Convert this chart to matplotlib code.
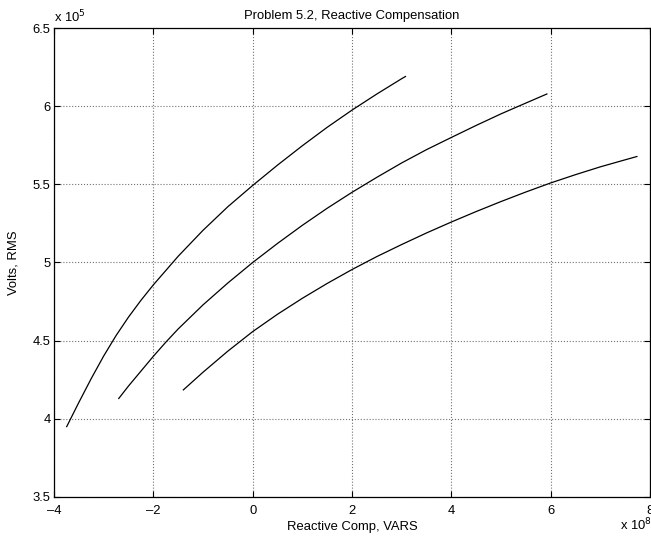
import matplotlib
matplotlib.use("Agg")
import matplotlib.pyplot as plt
from matplotlib.ticker import FuncFormatter

plt.rcParams['font.family'] = ['Liberation Sans', 'DejaVu Sans']

# curves: x in units of 1e8 VARS, y in units of 1e5 V
q1 = [-3.745, -3.5, -3.25, -3.0, -2.75, -2.5, -2.25, -2.0, -1.5, -1.0, -0.5,
      0.0, 0.5, 1.0, 1.5, 2.0, 2.5, 3.0, 3.076]
v1 = [3.95, 4.105, 4.258, 4.402, 4.533, 4.651, 4.758, 4.857, 5.04, 5.206, 5.357,
      5.493, 5.623, 5.747, 5.865, 5.975, 6.078, 6.176, 6.19]

q2 = [-2.697, -2.5, -2.0, -1.75, -1.5, -1.0, -0.5, 0.0, 0.5, 1.0, 1.5, 2.0,
      2.5, 3.0, 3.5, 4.0, 4.5, 5.0, 5.5, 5.923]
v2 = [4.13, 4.21, 4.40, 4.49, 4.575, 4.729, 4.869, 5.0, 5.122, 5.238, 5.347,
      5.449, 5.545, 5.637, 5.722, 5.8, 5.877, 5.951, 6.02, 6.078]

q3 = [-1.396, -1.0, -0.5, 0.0, 0.5, 1.0, 1.5, 2.0, 2.5, 3.0, 3.5, 4.0, 4.5,
      5.0, 5.5, 6.0, 6.5, 7.0, 7.5, 7.736]
v3 = [4.185, 4.298, 4.433, 4.558, 4.669, 4.771, 4.866, 4.955, 5.038, 5.115,
      5.189, 5.259, 5.326, 5.39, 5.451, 5.509, 5.562, 5.612, 5.657, 5.678]

xticks = [-4, -2, 0, 2, 4, 6, 8]
yticks = [3.5, 4, 4.5, 5, 5.5, 6, 6.5]

fig = plt.figure(figsize=(6.51, 5.39), dpi=100)
ax = fig.add_axes([0.083, 0.078, 0.9155, 0.870])

for q, v in [(q1, v1), (q2, v2), (q3, v3)]:
    ax.plot(q, v, color="black", lw=0.9)

ax.set_xlim(-4, 8)
ax.set_ylim(3.5, 6.5)
ax.set_xticks(xticks)
ax.set_yticks(yticks)
fmt = FuncFormatter(lambda val, pos: ("%g" % val).replace("-", "\u2013"))
ax.xaxis.set_major_formatter(fmt)
ax.yaxis.set_major_formatter(fmt)

ax.grid(True, linestyle=":", color="0.45", linewidth=0.8)
ax.tick_params(direction="in", length=4, width=0.8, top=True, right=True,
               labelsize=9.4)
ax.tick_params(axis="y", pad=2.5)
ax.tick_params(axis="x", pad=6)
for s in ax.spines.values():
    s.set_linewidth(0.9)

ax.set_title("Problem 5.2, Reactive Compensation", fontsize=9.4, pad=6.5)
ax.set_xlabel("Reactive Comp, VARS", fontsize=9.4)
ax.set_ylabel("Volts, RMS", fontsize=9.4)
ax.xaxis.set_label_coords(0.5, -0.052)
ax.yaxis.set_label_coords(-0.058, 0.5)

ax.text(0.0, 1.013, "x 10$^5$", transform=ax.transAxes, fontsize=9.4,
        ha="left", va="baseline")
ax.text(0.9497, -0.071, "x 10$^8$", transform=ax.transAxes, fontsize=9.4,
        ha="left", va="baseline")

fig.savefig("out.png", dpi=100)
